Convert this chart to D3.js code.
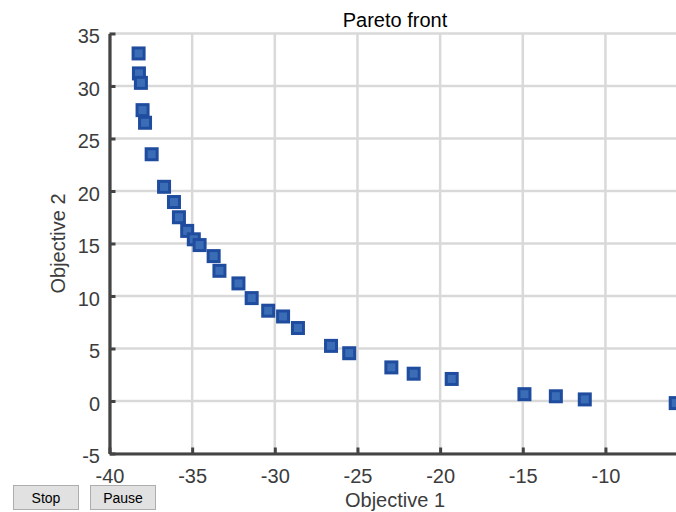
<!DOCTYPE html>
<html>
<head>
<meta charset="utf-8">
<script src="https://cdn.jsdelivr.net/npm/d3@7"></script>
<style>
  html, body { margin: 0; padding: 0; background: #fff; }
  svg { display: block; font-family: "Liberation Sans", Arial, sans-serif; }
</style>
</head>
<body>
<svg id="chart" width="676" height="512"></svg>
<script>
// ── Data ─────────────────────────────────────────────
const obj1 = [-38.24, -38.22, -38.1, -38.0, -37.85, -37.45, -36.7, -36.1, -35.8, -35.3,
              -34.9, -34.55, -33.7, -33.35, -32.2, -31.4, -30.4, -29.5, -28.6, -26.6,
              -25.5, -22.95, -21.6, -19.3, -14.9, -13.0, -11.25, -5.75];
const obj2 = [33.1, 31.2, 30.3, 27.7, 26.5, 23.5, 20.4, 18.95, 17.5, 16.2,
              15.4, 14.85, 13.8, 12.4, 11.2, 9.8, 8.6, 8.05, 6.95, 5.25,
              4.55, 3.2, 2.6, 2.1, 0.65, 0.45, 0.15, -0.2];
const xTicks = [-40, -35, -30, -25, -20, -15, -10];
const yTicks = [-5, 0, 5, 10, 15, 20, 25, 30, 35];

// ── Layout ───────────────────────────────────────────
const plotL = 109.5, plotR = 680.5, plotT = 33.5, plotB = 453.5;
const axisColor = '#444';
const labelColor = '#3c3c3c';

const svg = d3.select('#chart');

const x = d3.scaleLinear().domain([-40, -5.46]).range([plotL, plotR]);
const y = d3.scaleLinear().domain([-5, 35]).range([plotB, plotT]);

// plain hyphen minus, like the original
const fmt = d => String(d);

// ── Grid ─────────────────────────────────────────────
const grid = svg.append('g').attr('stroke', '#d9d9d9').attr('stroke-width', 2.5);

grid.selectAll('.vgrid')
  .data(xTicks)
  .join('line')
  .attr('class', 'vgrid')
  .attr('x1', d => x(d)).attr('x2', d => x(d))
  .attr('y1', plotT).attr('y2', plotB);

grid.selectAll('.hgrid')
  .data(yTicks)
  .join('line')
  .attr('class', 'hgrid')
  .attr('x1', plotL).attr('x2', plotR)
  .attr('y1', d => y(d)).attr('y2', d => y(d));

// ── Markers ──────────────────────────────────────────
const pts = obj1.map((v, i) => ({ x: v, y: obj2[i] }));
const s = 11;

svg.append('g')
  .selectAll('rect')
  .data(pts)
  .join('rect')
  .attr('x', d => x(d.x) - s / 2)
  .attr('y', d => y(d.y) - s / 2)
  .attr('width', s)
  .attr('height', s)
  .attr('fill', '#3a6db6')
  .attr('stroke', '#1f4c9e')
  .attr('stroke-width', 3);

// ── Axes ─────────────────────────────────────────────
const xAxis = svg.append('g')
  .attr('transform', `translate(0,${plotB})`)
  .call(d3.axisBottom(x).tickValues(xTicks).tickFormat(fmt)
    .tickSize(-6).tickSizeOuter(0).tickPadding(0));

const yAxis = svg.append('g')
  .attr('transform', `translate(${plotL},0)`)
  .call(d3.axisLeft(y).tickValues(yTicks).tickFormat(fmt)
    .tickSize(-6).tickSizeOuter(0).tickPadding(0));

[xAxis, yAxis].forEach(g => {
  g.select('.domain').attr('stroke', axisColor).attr('stroke-width', 3.2);
  g.selectAll('.tick line').attr('stroke', axisColor).attr('stroke-width', 3);
  g.selectAll('.tick text')
    .attr('fill', labelColor)
    .attr('font-size', '20px')
    .attr('font-family', '"Liberation Sans", Arial, sans-serif');
});

xAxis.selectAll('.tick text')
  .attr('dy', null)
  .attr('y', 482.7 - plotB)
  .attr('text-anchor', 'middle');

yAxis.selectAll('.tick text')
  .attr('dy', null)
  .attr('x', 100 - plotL)
  .attr('y', 9.2)
  .attr('text-anchor', 'end');

// ── Labels ───────────────────────────────────────────
svg.append('text')
  .attr('x', 395).attr('y', 26.5)
  .attr('text-anchor', 'middle')
  .attr('font-size', '20px')
  .attr('fill', '#000')
  .text('Pareto front');

svg.append('text')
  .attr('x', 395).attr('y', 507)
  .attr('text-anchor', 'middle')
  .attr('font-size', '20px')
  .attr('fill', labelColor)
  .text('Objective 1');

svg.append('text')
  .attr('transform', 'translate(65,243.5) rotate(-90)')
  .attr('text-anchor', 'middle')
  .attr('font-size', '20px')
  .attr('fill', labelColor)
  .text('Objective 2');

// ── Buttons ──────────────────────────────────────────
const buttons = [
  { label: 'Stop', x0: 13.5, w: 65 },
  { label: 'Pause', x0: 90.5, w: 65 }
];

const btn = svg.append('g')
  .selectAll('g')
  .data(buttons)
  .join('g');

btn.append('rect')
  .attr('x', d => d.x0).attr('y', 485.5)
  .attr('width', d => d.w).attr('height', 24)
  .attr('fill', '#e1e1e1')
  .attr('stroke', '#adadad')
  .attr('stroke-width', 1);

btn.append('text')
  .attr('x', d => d.x0 + d.w / 2).attr('y', 503)
  .attr('text-anchor', 'middle')
  .attr('font-size', '14px')
  .attr('fill', '#000')
  .text(d => d.label);
</script>
</body>
</html>
